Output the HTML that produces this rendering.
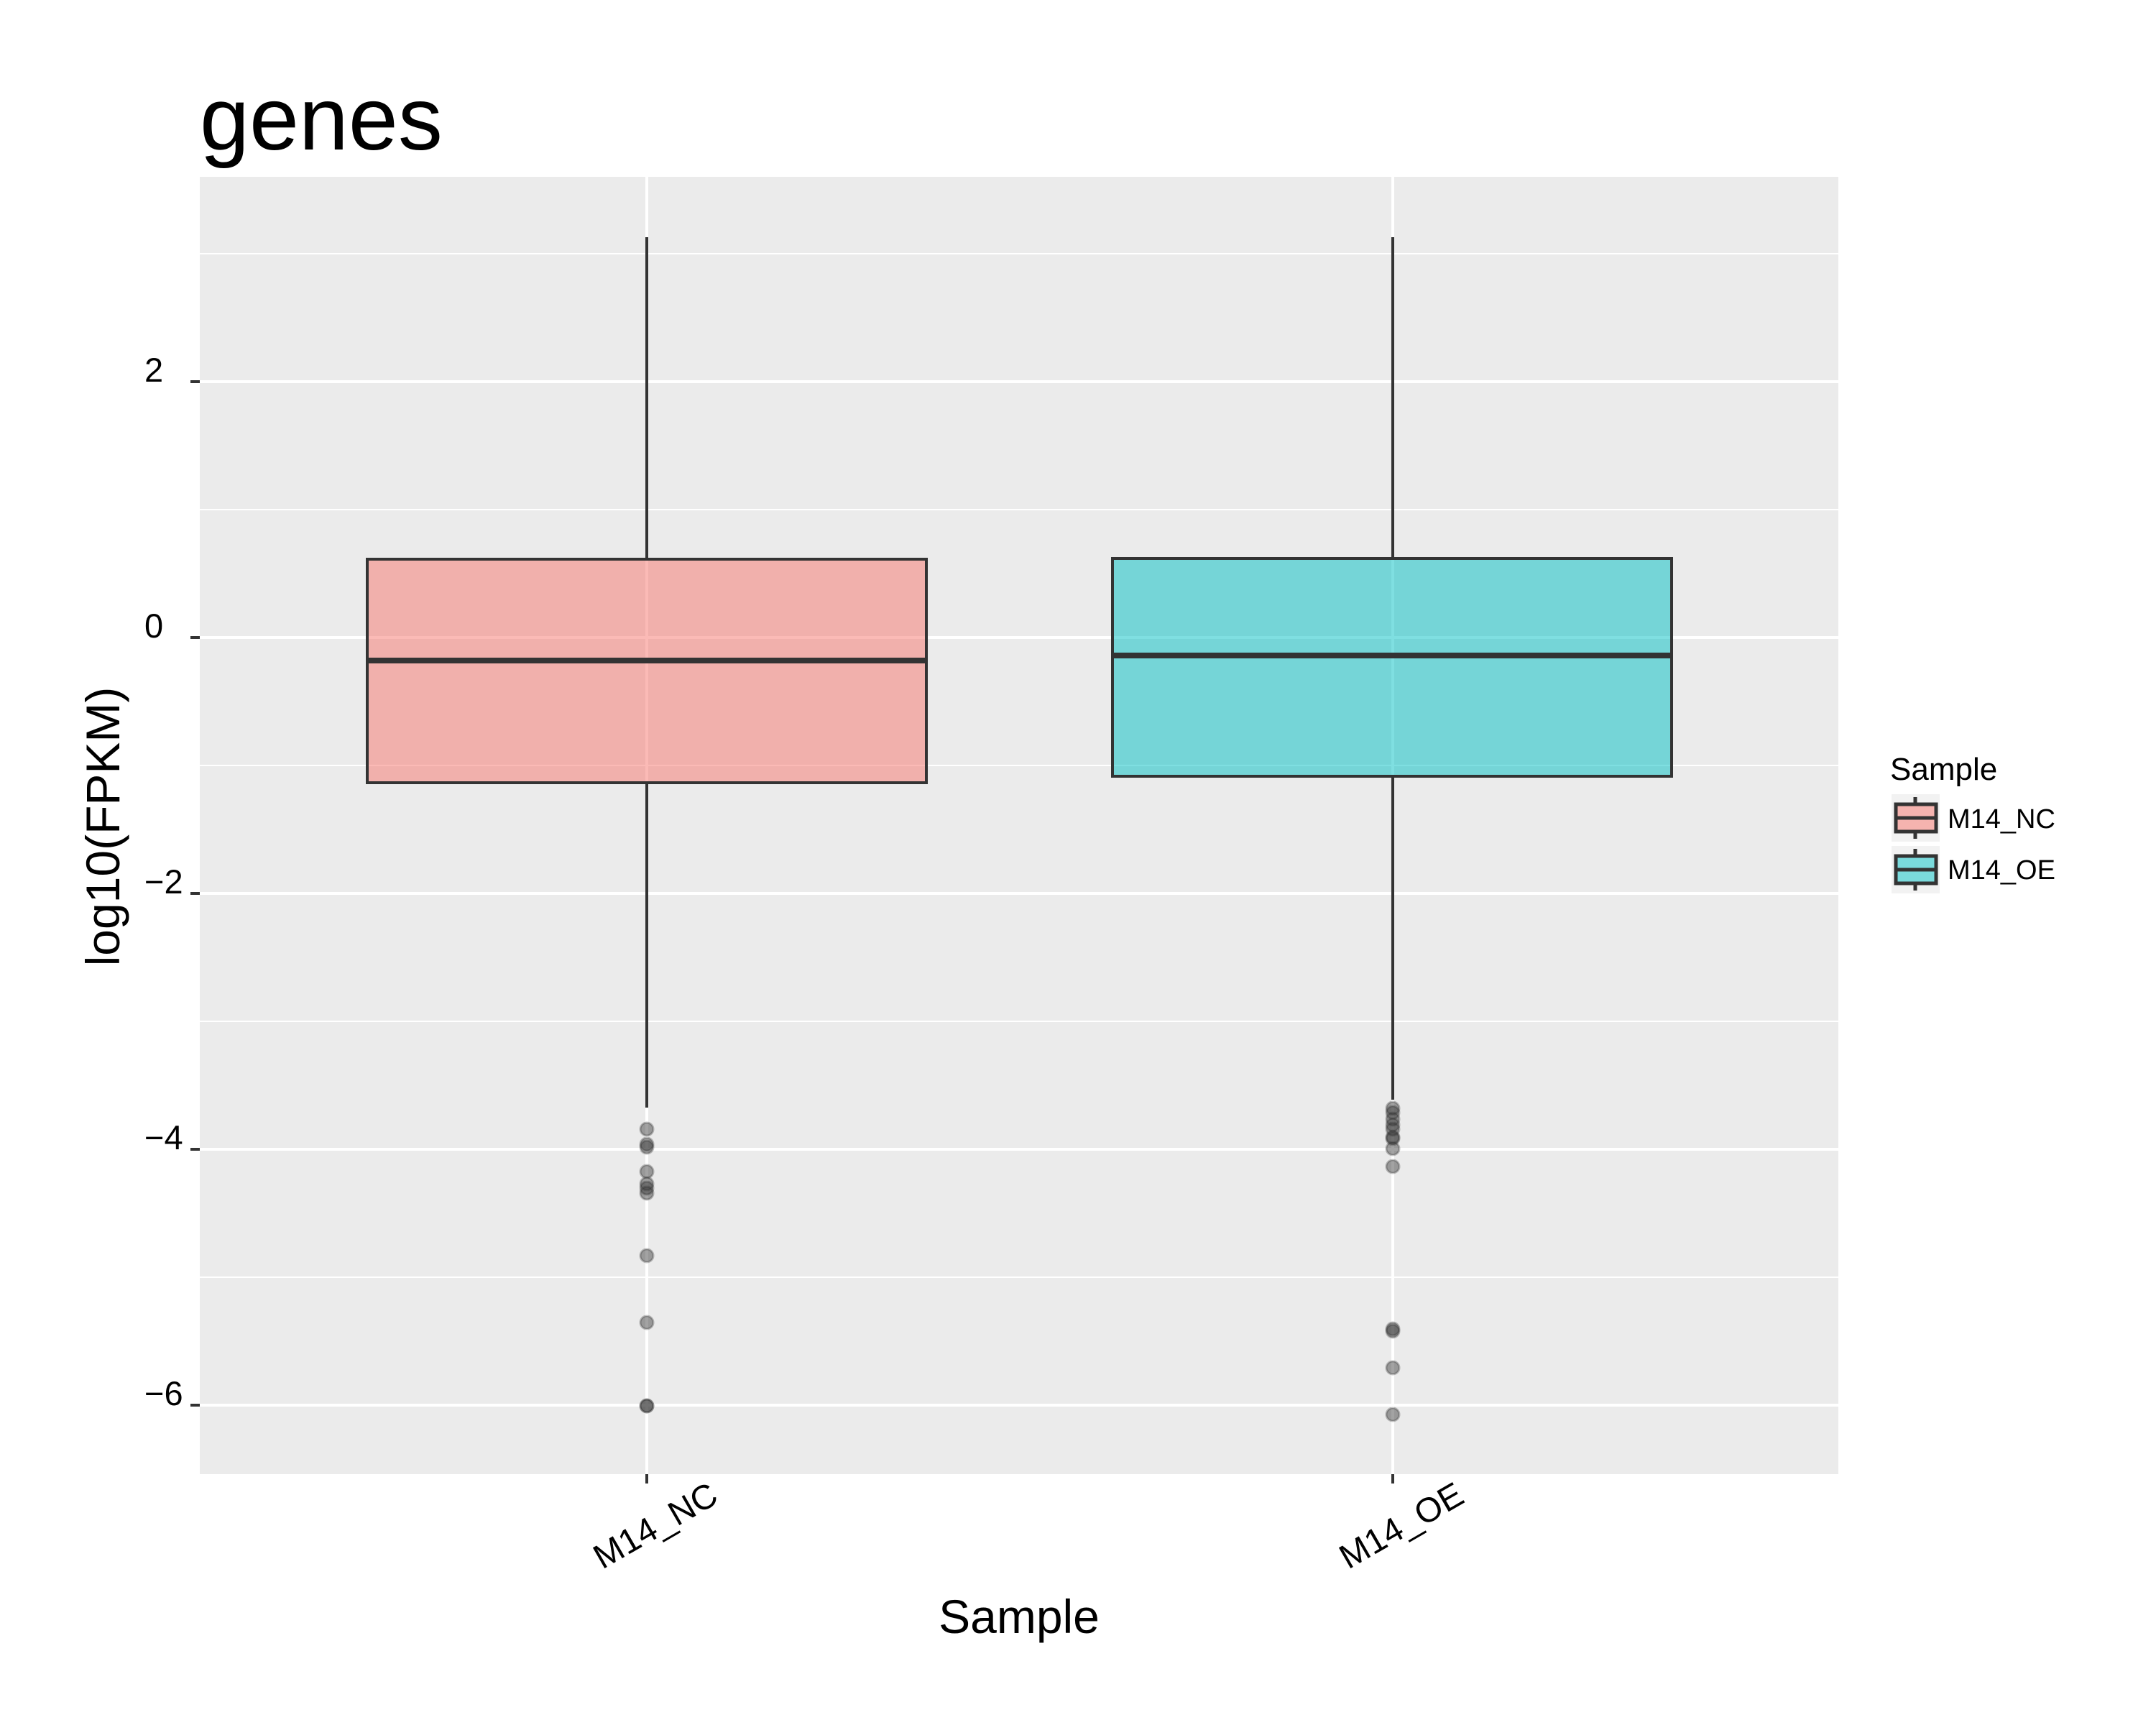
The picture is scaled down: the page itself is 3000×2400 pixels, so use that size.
<!DOCTYPE html>
<html><head><meta charset="utf-8"><style>html,body{margin:0;padding:0;background:#fff}svg{display:block}</style></head>
<body>
<svg xmlns="http://www.w3.org/2000/svg" width="3000" height="2400" viewBox="0 0 3000 2400" font-family="Liberation Sans, Arial, sans-serif">
<rect width="3000" height="2400" fill="#fff"/>
<text x="278" y="208" font-size="124">genes</text>
<rect x="278" y="246" width="2280" height="1805" fill="#EBEBEB"/>
<g stroke="#fff" stroke-width="2">
<line x1="278" x2="2558" y1="353" y2="353"/>
<line x1="278" x2="2558" y1="709" y2="709"/>
<line x1="278" x2="2558" y1="1065" y2="1065"/>
<line x1="278" x2="2558" y1="1421" y2="1421"/>
<line x1="278" x2="2558" y1="1777" y2="1777"/>
</g>
<g stroke="#fff" stroke-width="4">
<line x1="278" x2="2558" y1="531" y2="531"/>
<line x1="278" x2="2558" y1="887" y2="887"/>
<line x1="278" x2="2558" y1="1243" y2="1243"/>
<line x1="278" x2="2558" y1="1599" y2="1599"/>
<line x1="278" x2="2558" y1="1955" y2="1955"/>
<line x1="900" x2="900" y1="246" y2="2051"/>
<line x1="1938" x2="1938" y1="246" y2="2051"/>
</g>
<g stroke="#333" stroke-width="4">
<line x1="900" x2="900" y1="330" y2="776"/>
<line x1="900" x2="900" y1="1090" y2="1541"/>
<line x1="1938" x2="1938" y1="330" y2="776"/>
<line x1="1938" x2="1938" y1="1080" y2="1530"/>
</g>
<rect x="511" y="778" width="778" height="311" fill="#F8766D" fill-opacity="0.5" stroke="#333" stroke-width="4"/>
<line x1="511" x2="1289" y1="919" y2="919" stroke="#333" stroke-width="8"/>
<rect x="1548" y="777" width="778" height="303" fill="#00BFC4" fill-opacity="0.5" stroke="#333" stroke-width="4"/>
<line x1="1548" x2="2326" y1="912" y2="912" stroke="#333" stroke-width="8"/>
<g fill="#333" fill-opacity="0.45" stroke="#333" stroke-opacity="0.3" stroke-width="3">
<circle cx="900" cy="1571" r="9"/><circle cx="900" cy="1592" r="9"/><circle cx="900" cy="1596" r="9"/>
<circle cx="900" cy="1630" r="9"/><circle cx="900" cy="1647" r="9"/><circle cx="900" cy="1653" r="9"/>
<circle cx="900" cy="1660" r="9"/><circle cx="900" cy="1747" r="9"/><circle cx="900" cy="1840" r="9"/>
<circle cx="900" cy="1956" r="9"/><circle cx="900" cy="1956" r="9"/>
<circle cx="1938" cy="1542" r="9"/><circle cx="1938" cy="1548" r="9"/><circle cx="1938" cy="1557" r="9"/>
<circle cx="1938" cy="1565" r="9"/><circle cx="1938" cy="1571" r="9"/><circle cx="1938" cy="1582" r="9"/>
<circle cx="1938" cy="1584" r="9"/><circle cx="1938" cy="1598" r="9"/><circle cx="1938" cy="1623" r="9"/>
<circle cx="1938" cy="1849" r="9"/><circle cx="1938" cy="1852" r="9"/><circle cx="1938" cy="1903" r="9"/>
<circle cx="1938" cy="1968" r="9"/>
</g>
<g stroke="#333" stroke-width="4">
<line x1="265" x2="278" y1="531" y2="531"/>
<line x1="265" x2="278" y1="887" y2="887"/>
<line x1="265" x2="278" y1="1243" y2="1243"/>
<line x1="265" x2="278" y1="1599" y2="1599"/>
<line x1="265" x2="278" y1="1955" y2="1955"/>
<line x1="900" x2="900" y1="2051" y2="2064"/>
<line x1="1938" x2="1938" y1="2051" y2="2064"/>
</g>
<g font-size="47" fill="#000">
<text x="201" y="531">2</text>
<text x="201" y="887">0</text>
<text x="201" y="1243">−2</text>
<text x="201" y="1599">−4</text>
<text x="201" y="1955">−6</text>
</g>
<text font-size="48" transform="translate(838,2184) rotate(-30)">M14_NC</text>
<text font-size="48" transform="translate(1876,2184) rotate(-30)">M14_OE</text>
<text x="1418" y="2272" font-size="66" text-anchor="middle">Sample</text>
<text font-size="66" text-anchor="middle" transform="translate(166,1150) rotate(-90)">log10(FPKM)</text>
<text x="2630" y="1085" font-size="44">Sample</text>
<rect x="2632" y="1105" width="67" height="66" fill="#F2F2F2"/>
<rect x="2632" y="1177" width="67" height="66" fill="#F2F2F2"/>
<g stroke="#333" stroke-width="5">
<line x1="2665" x2="2665" y1="1109" y2="1167"/>
<line x1="2665" x2="2665" y1="1181" y2="1239"/>
</g>
<rect x="2638" y="1119" width="56" height="38" fill="#F5B3AF" stroke="#333" stroke-width="5"/>
<line x1="2638" x2="2694" y1="1138" y2="1138" stroke="#333" stroke-width="5"/>
<rect x="2638" y="1191" width="56" height="38" fill="#7ADADC" stroke="#333" stroke-width="5"/>
<line x1="2638" x2="2694" y1="1210" y2="1210" stroke="#333" stroke-width="5"/>
<text x="2710" y="1152" font-size="38">M14_NC</text>
<text x="2710" y="1223" font-size="38">M14_OE</text>
</svg>
</body></html>
